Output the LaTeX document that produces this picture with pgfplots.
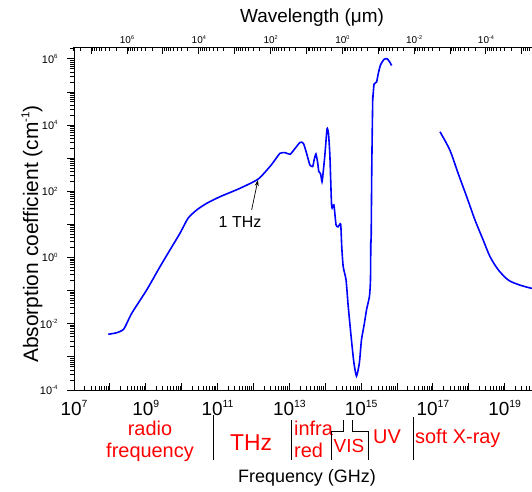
\documentclass[border=0pt]{standalone}
\usepackage{fontspec}
\setmainfont{Liberation Sans}
\usepackage{graphicx}
\usepackage{pgfplots}
\usepackage{pgfplotstable}
\pgfplotsset{compat=1.18}
\usetikzlibrary{arrows.meta}

\definecolor{curveblue}{RGB}{0,0,255}
\definecolor{bandred}{RGB}{255,0,0}

% exponent for the "10^n" tick labels, set in the text font
\newcommand{\ex}[1]{\raisebox{0.42em}{\scalebox{0.55}{#1}}}

% minor ticks 2..9 x 10^e for the decades #2..#3, stored in #1
\newcommand{\logminor}[3]{%
  \xdef#1{1e#2}%
  \foreach \e in {#2,...,#3}{%
    \foreach \m in {2,...,9}{\xdef#1{#1,\m e\e}}}}
\logminor{\minorfreq}{7}{19}
\logminor{\minorabs}{-4}{6}
\logminor{\minorwave}{-6}{7}

\pgfplotsset{
  frame/.style={
    scale only axis, width=466.6bp, height=343bp,
    at={(0,0)}, anchor=south west,
    axis line style={line width=0.8bp, black},
    every tick/.style={draw=black, line width=1bp},
    every major tick/.style={draw=black},
    every minor tick/.style={draw=black},
    major tick length=7bp, minor tick length=4bp,
  },
}

% absorption of liquid water: radio to UV
\pgfplotstableread{
f a
9.02e7 4.82e-3
1.55e8 5.37e-3
2.45e8 6.97e-3
4.05e8 2.07e-2
1.06e9 0.105
2.49e9 0.531
4.72e9 1.70
8.97e9 5.42
1.51e10 15.5
2.63e10 27.5
5.01e10 43.7
1.18e11 69.2
4.17e11 123
1.35e12 234
2.88e12 562
3.98e12 891
5.50e12 1413
7.59e12 1479
1.05e13 1318
1.45e13 1995
2.00e13 3020
2.46e13 2818
3.02e13 1413
3.72e13 631
4.47e13 562
4.90e13 891
5.50e13 1349
6.17e13 708
6.61e13 398
7.41e13 339
8.13e13 195
8.71e13 355
9.77e13 1259
1.12e14 7586
1.23e14 5623
1.35e14 1122
1.51e14 34.7
1.74e14 38.9
2.00e14 9.66
2.29e14 8.51
2.69e14 10.2
2.88e14 2.14
3.16e14 0.537
3.80e14 0.209
4.37e14 3.31e-2
5.37e14 3.24e-3
6.31e14 6.46e-4
7.41e14 2.63e-4
8.91e14 6.46e-4
1.02e15 3.24e-3
1.23e15 1.02e-2
1.41e15 2.63e-2
1.70e15 6.61e-2
1.82e15 0.209
1.86e15 3.39
1.90e15 3.39
1.98e15 562
2.10e15 5.75e4
2.14e15 7.24e4
2.29e15 1.74e5
2.69e15 2.00e5
3.02e15 3.72e5
3.47e15 6.61e5
4.37e15 9.77e5
5.37e15 1.00e6
6.31e15 7.94e5
7.08e15 6.31e5
}\absLow

% soft X-ray branch
\pgfplotstableread{
f a
1.57e17 6310
2.95e17 1778
5.01e17 355
8.71e17 69.2
1.48e18 13.8
2.51e18 3.39
3.89e18 1.07
6.61e18 0.427
1.26e19 0.209
2.63e19 0.148
5.75e19 0.117
1e20 0.105
}\absXray

\begin{document}
\begin{tikzpicture}
\begin{axis}[
  frame,
  xmode=log, ymode=log,
  xmin=1e7, xmax=1e20, ymin=1e-4, ymax=2.29e6,
  xtick pos=left, ytick pos=left,
  xtick align=inside, ytick align=outside,
  xtick={1e7,1e8,1e9,1e10,1e11,1e12,1e13,1e14,1e15,1e16,1e17,1e18,1e19},
  xticklabels={10\ex{7},{},10\ex{9},{},10\ex{11},{},10\ex{13},{},10\ex{15},{},10\ex{17},{},10\ex{19}},
  minor xtick/.expanded={\minorfreq},
  ytick={1e-4,1e-3,1e-2,1e-1,1,1e1,1e2,1e3,1e4,1e5,1e6},
  yticklabels={10\ex{-4},{},10\ex{-2},{},10\ex{0},{},10\ex{2},{},10\ex{4},{},10\ex{6}},
  minor ytick/.expanded={\minorabs},
  xticklabel style={font=\fontsize{19}{22}\selectfont, yshift=-7bp},
  yticklabel style={font=\fontsize{11}{13}\selectfont, xshift=-6bp},
]
\addplot[curveblue, line width=1.6bp, smooth, tension=0.35] table[x=f, y=a] {\absLow};
\addplot[curveblue, line width=1.6bp, smooth] table[x=f, y=a] {\absXray};
% 1 THz marker
\draw[black, line width=0.7bp, -{Stealth[length=6bp, width=4bp]}]
  (axis cs:8.9e11,27.5) -- (axis cs:1.33e12,219);
\end{axis}

% wavelength scale on top
\begin{axis}[
  frame,
  xmode=log, x dir=reverse,
  xmin=3e-6, xmax=3e7, ymin=0, ymax=1,
  xtick pos=right, ytick=\empty,
  xtick align=inside,
  xtick={1e-5,1e-4,1e-3,1e-2,1e-1,1,1e1,1e2,1e3,1e4,1e5,1e6,1e7},
  xticklabels={{},10\ex{-4},{},10\ex{-2},{},10\ex{0},{},10\ex{2},{},10\ex{4},{},10\ex{6},{}},
  minor xtick/.expanded={\minorwave},
  xticklabel style={font=\fontsize{10}{12}\selectfont},
]
\end{axis}

\node[font=\fontsize{19}{23}\selectfont] at (238bp,372bp) {Wavelength (μm)};
\node[rotate=90, font=\fontsize{21}{25}\selectfont] at (-42bp,156bp) {Absorption coefficient (cm\ex{-1})};
\node[font=\fontsize{18}{22}\selectfont] at (233bp,-88bp) {Frequency (GHz)};
\node[font=\fontsize{16}{19}\selectfont] at (166bp,168bp) {1 THz};

% spectral bands
\begin{scope}[font=\fontsize{20}{24}\selectfont, text=bandred, inner sep=0pt]
  \node[anchor=base] at (76bp,-45bp) {radio};
  \node[anchor=base] at (76bp,-67bp) {frequency};
  \node[anchor=base, font=\fontsize{23}{27}\selectfont] at (177bp,-60bp) {THz};
  \node[anchor=base west] at (220bp,-45bp) {infra};
  \node[anchor=base west] at (220bp,-67bp) {red};
  \node[anchor=base, font=\fontsize{19}{23}\selectfont] at (275bp,-62bp) {VIS};
  \node[anchor=base] at (313bp,-53bp) {UV};
  \node[anchor=base west] at (341bp,-53bp) {soft X-ray};
\end{scope}
\begin{scope}[black, line width=0.9bp]
  \draw (139bp,-25bp) -- (139bp,-70bp);
  \draw (217bp,-30bp) -- (217bp,-70bp);
  \draw (257bp,-70bp) -- (257bp,-41bp) -- (269bp,-41bp) -- (269bp,-30bp);
  \draw (278bp,-30bp) -- (278bp,-41bp) -- (294bp,-41bp) -- (294bp,-70bp);
  \draw (339bp,-27bp) -- (339bp,-70bp);
\end{scope}

\pgfresetboundingbox
\path[use as bounding box] (-74bp,-102bp) rectangle (458bp,390bp);
\end{tikzpicture}
\end{document}
